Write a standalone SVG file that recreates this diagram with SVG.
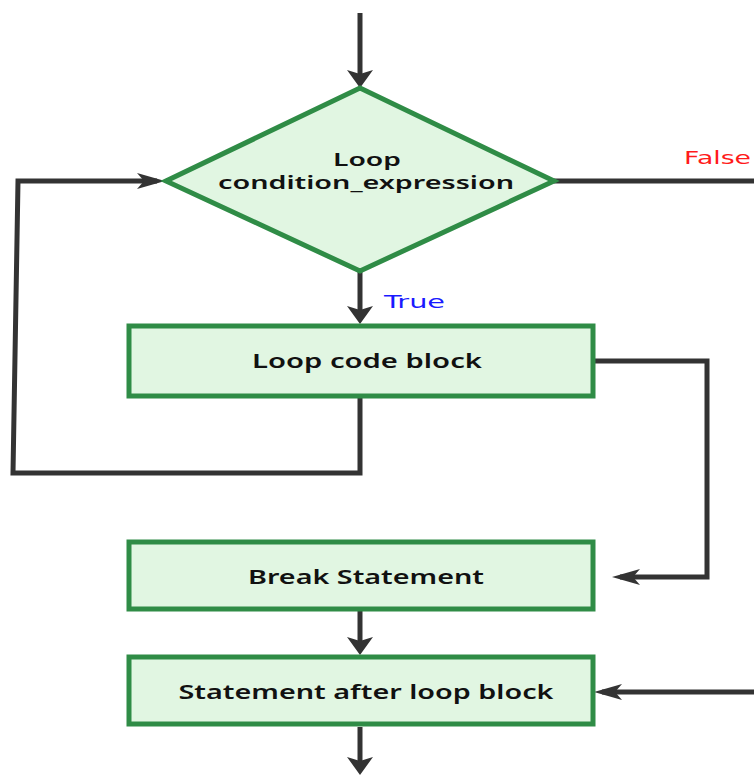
<svg xmlns="http://www.w3.org/2000/svg" width="754" height="777" viewBox="0 0 754 777">
  <style>
    .node { fill: #e1f6e2; stroke: #2f8c46; stroke-width: 5; }
    .edge { fill: none; stroke: #333333; stroke-width: 5; }
    .label { font-family: "Noto Sans", "DejaVu Sans", sans-serif; font-size: 19px; font-weight: 600; fill: #111111; text-anchor: middle; }
    .cond { font-size: 18px; }
    .branch { font-family: "DejaVu Sans", "Liberation Sans", sans-serif; font-size: 18px; }
  </style>
  <defs>
    <!-- arrowhead for vertical runs: short and broad -->
    <marker id="arrow-v" viewBox="0 0 18 26" refX="12" refY="13" markerWidth="18" markerHeight="26" markerUnits="userSpaceOnUse" orient="auto">
      <path d="M0,0 L18,13 L0,26 L4,13 z" fill="#333333"/>
    </marker>
    <!-- arrowhead for horizontal runs: long and narrow -->
    <marker id="arrow-h" viewBox="0 0 28 16" refX="20" refY="8" markerWidth="28" markerHeight="16" markerUnits="userSpaceOnUse" orient="auto">
      <path d="M0,0 L28,8 L0,16 L7,8 z" fill="#333333"/>
    </marker>
  </defs>
  <rect width="754" height="777" fill="#ffffff"/>

  <g id="connectors">
    <path class="edge" d="M360,13 V82" marker-end="url(#arrow-v)"/>
    <path class="edge" d="M360,272 V318" marker-end="url(#arrow-v)"/>
    <path class="edge" d="M360,398 V473 H13 L18,181 H157" marker-end="url(#arrow-h)"/>
    <path class="edge" d="M554,181 H754"/>
    <path class="edge" d="M594,361 H707 V577 H620" marker-end="url(#arrow-h)"/>
    <path class="edge" d="M360,610 V649" marker-end="url(#arrow-v)"/>
    <path class="edge" d="M754,692 H602" marker-end="url(#arrow-h)"/>
    <path class="edge" d="M360,727 V769" marker-end="url(#arrow-v)"/>
    <text class="branch" x="684" y="164" fill="#ff1a1a" textLength="67" lengthAdjust="spacingAndGlyphs">False</text>
    <text class="branch" x="384" y="308" fill="#1a1aff" textLength="61" lengthAdjust="spacingAndGlyphs">True</text>
  </g>

  <g id="condition">
    <polygon class="node" points="360,88 554,181 360,271 166,181"/>
    <text class="label cond" x="367" y="166" textLength="68" lengthAdjust="spacingAndGlyphs">Loop</text>
    <text class="label cond" x="366" y="189" textLength="296" lengthAdjust="spacingAndGlyphs">condition_expression</text>
  </g>

  <g id="loop-body">
    <rect class="node" x="129" y="326" width="464" height="70"/>
    <text class="label" x="367" y="368" textLength="230" lengthAdjust="spacingAndGlyphs">Loop code block</text>
  </g>

  <g id="break-statement">
    <rect class="node" x="129" y="542" width="464" height="67"/>
    <text class="label" x="366" y="584" textLength="236" lengthAdjust="spacingAndGlyphs">Break Statement</text>
  </g>

  <g id="after-loop">
    <rect class="node" x="129" y="657" width="464" height="67"/>
    <text class="label" x="366" y="699" textLength="375" lengthAdjust="spacingAndGlyphs">Statement after loop block</text>
  </g>
</svg>
